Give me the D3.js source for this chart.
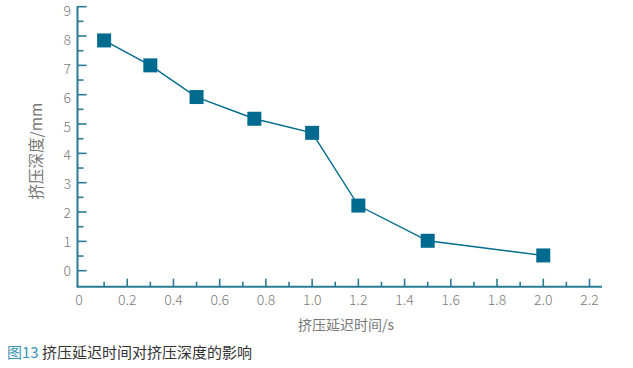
<!DOCTYPE html>
<html>
<head>
<meta charset="utf-8">
<script src="https://cdn.jsdelivr.net/npm/d3@7"></script>
<style>
  body { margin: 0; background: #fff; }
  svg text { font-family: "Noto Sans CJK SC", "Noto Sans", sans-serif; }
</style>
</head>
<body>
<div id="chart"></div>
<script>
// data
const delayTimes = [0.1, 0.3, 0.5, 0.75, 1.0, 1.2, 1.5, 2.0];
const depths = [7.85, 7.0, 5.92, 5.18, 4.7, 2.22, 1.02, 0.52];
const xTickValues = [0, 0.2, 0.4, 0.6, 0.8, 1.0, 1.2, 1.4, 1.6, 1.8, 2.0, 2.2];
const xTickLabels = ["0", "0.2", "0.4", "0.6", "0.8", "1.0", "1.2", "1.4", "1.6", "1.8", "2.0", "2.2"];
const yTickValues = [0, 1, 2, 3, 4, 5, 6, 7, 8, 9];

const width = 633, height = 368;
const teal = "#006b8f";
const axisColor = "#2a7a94";

const svg = d3.select("#chart").append("svg")
    .attr("width", width)
    .attr("height", height);

const x = d3.scaleLinear().domain([0, 2.2]).range([81, 589.5]);
const y = d3.scaleLinear().domain([0, 9]).range([270.7, 6.7]);

const axisX0 = 77.5, axisY0 = 286.7;

// y axis line + ticks (ticks point inward)
svg.append("line")
    .attr("x1", axisX0).attr("x2", axisX0)
    .attr("y1", 6).attr("y2", axisY0)
    .attr("stroke", axisColor).attr("stroke-width", 2);

const yMinor = d3.range(0.5, 9, 1);
svg.selectAll(".ymaj").data(yTickValues).join("line")
    .attr("x1", axisX0).attr("x2", axisX0 + 9)
    .attr("y1", d => y(d)).attr("y2", d => y(d))
    .attr("stroke", axisColor).attr("stroke-width", 1.6);
svg.selectAll(".ymin").data(yMinor).join("line")
    .attr("x1", axisX0).attr("x2", axisX0 + 6)
    .attr("y1", d => y(d)).attr("y2", d => y(d))
    .attr("stroke", axisColor).attr("stroke-width", 1.6);
// labels sit a little lower toward the top in the original scan
svg.selectAll(".ylab").data(yTickValues).join("text")
    .attr("x", 71).attr("y", d => y(d) + 5 + d * 0.5)
    .attr("text-anchor", "end")
    .attr("font-size", 14).attr("font-weight", 300)
    .attr("fill", "#7a7a7a")
    .text(d => d);

// x axis line + ticks (pointing up)
svg.append("line")
    .attr("x1", axisX0 - 1).attr("x2", 602)
    .attr("y1", axisY0).attr("y2", axisY0)
    .attr("stroke", axisColor).attr("stroke-width", 2);

const xMinor = d3.range(0.1, 2.2, 0.2);
svg.selectAll(".xmaj").data(xTickValues.slice(1)).join("line")
    .attr("x1", d => x(d)).attr("x2", d => x(d))
    .attr("y1", axisY0).attr("y2", axisY0 - 8)
    .attr("stroke", axisColor).attr("stroke-width", 1.6);
svg.selectAll(".xmin").data(xMinor).join("line")
    .attr("x1", d => x(d)).attr("x2", d => x(d))
    .attr("y1", axisY0).attr("y2", axisY0 - 5)
    .attr("stroke", axisColor).attr("stroke-width", 1.6);
svg.selectAll(".xlab").data(xTickValues).join("text")
    .attr("x", (d, i) => i === 0 ? 79 : x(d))
    .attr("y", 305)
    .attr("text-anchor", "middle")
    .attr("font-size", 14).attr("font-weight", 300)
    .attr("fill", "#7a7a7a")
    .text((d, i) => xTickLabels[i]);

// axis titles
svg.append("text")
    .attr("x", 346).attr("y", 330)
    .attr("text-anchor", "middle")
    .attr("font-size", 14).attr("fill", "#777")
    .text("挤压延迟时间/s");

svg.append("text")
    .attr("transform", "translate(42,151) rotate(-90)")
    .attr("text-anchor", "middle")
    .attr("font-size", 15.5).attr("fill", "#777")
    .text("挤压深度/mm");

// line + square markers
const pts = delayTimes.map((t, i) => [t, depths[i]]);
svg.append("path")
    .datum(pts)
    .attr("d", d3.line().x(d => x(d[0])).y(d => y(d[1])))
    .attr("fill", "none")
    .attr("stroke", teal)
    .attr("stroke-width", 1.4);

const sq = 14;
svg.selectAll(".pt").data(pts).join("rect")
    .attr("x", d => x(d[0]) - sq / 2)
    .attr("y", d => y(d[1]) - sq / 2)
    .attr("width", sq).attr("height", sq)
    .attr("fill", teal);

// caption
const cap = svg.append("text")
    .attr("x", 7).attr("y", 358)
    .attr("font-size", 15).attr("font-weight", 400);
cap.append("tspan").attr("fill", "#3a93b8").text("图13 ");
cap.append("tspan").attr("fill", "#333").text("挤压延迟时间对挤压深度的影响");
</script>
</body>
</html>
